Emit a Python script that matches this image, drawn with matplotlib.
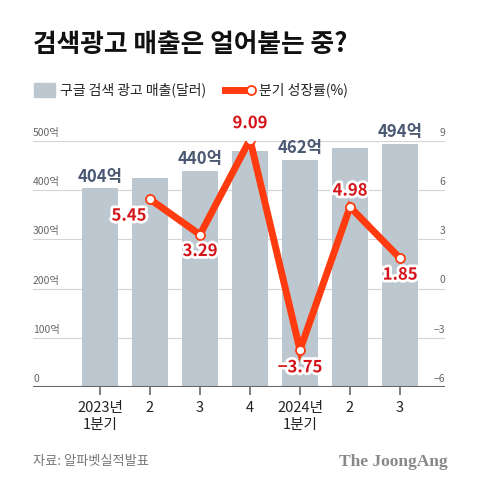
import matplotlib
matplotlib.use('Agg')
import matplotlib.pyplot as plt
import matplotlib.patheffects as pe
from matplotlib.patches import Rectangle
from matplotlib.lines import Line2D
import numpy as np

plt.rcParams['font.family'] = ['Noto Sans CJK KR', 'DejaVu Sans']

# 데이터
quarters = ['2023년\n1분기', '2', '3', '4', '2024년\n1분기', '2', '3']
revenue = [404, 425, 440, 480, 462, 486, 494]          # 억 달러
revenue_labels = ['404억', None, '440억', None, '462억', None, '494억']
growth = [None, 5.45, 3.29, 9.09, -3.75, 4.98, 1.85]    # %
left_ticks = [0, 100, 200, 300, 400, 500]
left_tick_labels = ['0', '100억', '200억', '300억', '400억', '500억']
right_ticks = [-6, -3, 0, 3, 6, 9]

W, H = 480, 492
fig = plt.figure(figsize=(W / 100, H / 100), dpi=100)
fig.patch.set_facecolor('white')

ax = fig.add_axes([33 / W, 1 - 387 / H, 412 / W, (387 - 141) / H])
ax2 = ax.twinx()

x = np.arange(len(quarters))
bar_color = '#bcc7cf'
line_color = '#ff3b0f'
label_red = '#d4141a'

ax.set_xlim(-1.34, 6.9)
ax.set_ylim(0, 500)
ax2.set_ylim(-6, 9)

# 격자
for t in left_ticks[1:]:
    ax.axhline(t, color='#d4d4d4', lw=0.8, zorder=0)

ax.bar(x, revenue, width=0.72, color=bar_color, zorder=1)
for xi, v, lab in zip(x, revenue, revenue_labels):
    if lab:
        ax.text(xi, v + 5, lab, ha='center', va='bottom', fontsize=12,
                fontweight='bold', color='#4b5874', zorder=3)

# 왼쪽 눈금 라벨 (격자선 위)
for t, lab in zip(left_ticks, left_tick_labels):
    ax.text(-1.34, t + 6, lab, ha='left', va='bottom', fontsize=7.5,
            color='#666666', zorder=3)
# 오른쪽 눈금 라벨
for t in right_ticks:
    s = str(t).replace('-', '\u2212')
    ax2.text(6.9, t + 0.2, s, ha='right', va='bottom', fontsize=7.5,
             color='#666666', zorder=3)

ax.set_yticks([])
ax2.set_yticks([])
for a in (ax, ax2):
    for s in ['top', 'left', 'right', 'bottom']:
        a.spines[s].set_visible(False)
ax.axhline(0, color='#666666', lw=1.5, zorder=2)

ax.set_xticks(x)
ax.set_xticklabels(quarters, fontsize=10.5, color='#222222', linespacing=1.3)
ax.tick_params(axis='x', length=6, width=1.2, color='#666666', pad=4)

# 성장률 선
gx = [xi for xi, g in zip(x, growth) if g is not None]
gy = [g for g in growth if g is not None]
ax2.plot(gx, gy, color=line_color, lw=5, zorder=4, solid_joinstyle='miter')
ax2.plot(gx, gy, 'o', ms=6.5, mfc='white', mec=line_color, mew=1.3, zorder=5, ls='none')

offsets = {1: (-0.42, -0.45, 'center', 'top'),
           2: (0.0, -0.45, 'center', 'top'),
           3: (0.0, 0.45, 'center', 'bottom'),
           4: (0.0, -0.5, 'center', 'top'),
           5: (0.0, 0.45, 'center', 'bottom'),
           6: (0.0, -0.45, 'center', 'top')}
for xi, g in zip(gx, gy):
    dx, dy, ha, va = offsets[xi]
    s = f'{g:.2f}'.replace('-', '\u2212')
    ax2.text(xi + dx, g + dy, s, ha=ha, va=va, fontsize=12, fontweight='bold',
             color=label_red, zorder=6,
             path_effects=[pe.withStroke(linewidth=4, foreground='white')])

# 제목
fig.text(33 / W, 1 - 45 / H, '검색광고 매출은 얼어붙는 중?', ha='left', va='center',
         fontsize=18.5, fontweight='black', color='#111111')

# 범례
fig.patches.append(Rectangle((34 / W, 1 - 97 / H), 21 / W, 14 / H,
                             transform=fig.transFigure, color=bar_color))
fig.text(60 / W, 1 - 90 / H, '구글 검색 광고 매출(달러)', ha='left', va='center',
         fontsize=10, color='#222222')
fig.lines.append(Line2D([225 / W, 250 / W], [1 - 90 / H, 1 - 90 / H],
                        transform=fig.transFigure, color=line_color, lw=5))
fig.lines.append(Line2D([251 / W], [1 - 90 / H], transform=fig.transFigure,
                        marker='o', ms=6.5, mfc='white', mec=line_color, mew=1.3))
fig.text(259 / W, 1 - 90 / H, '분기 성장률(%)', ha='left', va='center',
         fontsize=10, color='#222222')

# 출처
fig.text(33 / W, 1 - 462 / H, '자료: 알파벳실적발표', ha='left', va='center',
         fontsize=9.5, fontweight='medium', color='#777777')
fig.text(448 / W, 1 - 462 / H, 'The JoongAng', ha='right', va='center',
         fontsize=12.5, fontweight='bold', family='Liberation Serif', color='#888888')

fig.savefig('out.png', dpi=100, facecolor='white')
